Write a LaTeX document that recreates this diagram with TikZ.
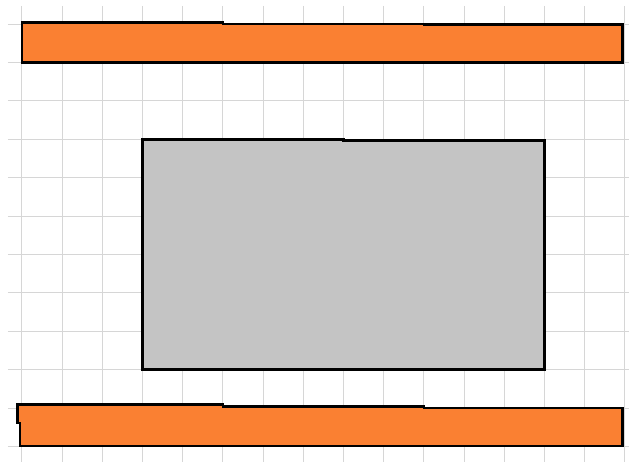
\documentclass[tikz,border=0pt]{standalone}
\usepackage{xcolor}
\definecolor{barorange}{RGB}{250,128,50}
\definecolor{blockgray}{RGB}{196,196,196}
\definecolor{gridgray}{RGB}{214,214,214}
\usetikzlibrary{calc}

\tikzset{
  gridline/.style={draw=gridgray, line width=0.7pt},
  outline/.style={draw=black, line width=2.1pt},
  barshape/.style={outline, fill=barorange},
  blockshape/.style={outline, fill=blockgray}
}

\begin{document}
\begin{tikzpicture}[x={(1.005cm,0)}, y={(0,-0.96cm)}]
\useasboundingbox (-0.547,-0.625) rectangle (15.1,11.406);
% grid
\foreach \i in {0,...,15}
  \draw[gridline] (\i,-0.47) -- (\i,11.406);
\foreach \j in {0,...,11}
  \draw[gridline] (-0.35,\j) -- (15.1,\j);
% top bar
\draw[barshape] (0,-0.03) -- (5,-0.03) -- (5,0) -- (10,0) -- (10,0.02)
  -- (14.95,0.02) -- (14.95,1) -- (0,1) -- cycle;
% middle block
\draw[blockshape] (3,3) -- (8,3) -- (8,3.03) -- (13,3.03) -- (13,9)
  -- (3,9) -- cycle;
% bottom bar
\draw[barshape] (-0.1,9.92) -- (5,9.92) -- (5,9.96) -- (10,9.96) -- (10,10)
  -- (14.95,10) -- (14.95,10.99) -- (-0.05,10.99) -- (-0.05,10.39)
  -- (-0.1,10.39) -- cycle;
\end{tikzpicture}
\end{document}
